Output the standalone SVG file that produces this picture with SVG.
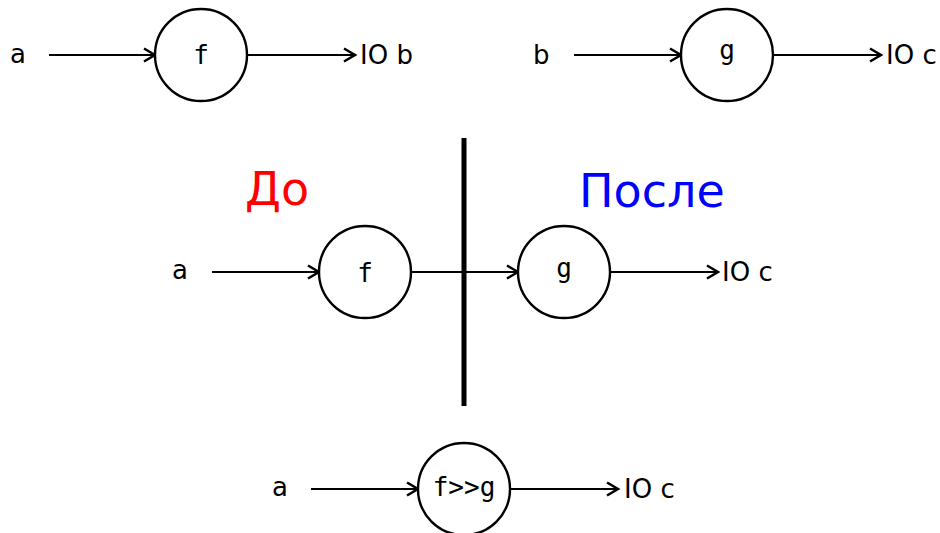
<svg xmlns="http://www.w3.org/2000/svg" width="940" height="533" viewBox="0 0 940 533">
<style>
.lbl{font-family:"DejaVu Sans",sans-serif;font-size:26px;fill:#000}
.fn{font-family:"DejaVu Sans Mono",monospace;font-size:26px;fill:#000;text-anchor:middle}
.node{fill:#fff;stroke:#000;stroke-width:2.4}
.edge{stroke:#000;stroke-width:2.2;fill:none;marker-end:url(#arr)}
.big{font-family:"DejaVu Sans",sans-serif;font-size:46px}
</style>
<defs>
<marker id="arr" markerUnits="userSpaceOnUse" markerWidth="16" markerHeight="16" refX="13" refY="8" orient="auto">
<path d="M2,1.5 L13,8 L2,14.5" fill="none" stroke="#000" stroke-width="2.5"/>
</marker>
</defs>
<rect width="940" height="533" fill="#fff"/>
<g id="connectors">
<line class="edge" x1="49" y1="55" x2="155" y2="55"/>
<line class="edge" x1="247" y1="55" x2="355" y2="55"/>
<line class="edge" x1="574" y1="55" x2="681" y2="55"/>
<line class="edge" x1="773" y1="55" x2="881" y2="55"/>
<line class="edge" x1="212" y1="272" x2="319" y2="272"/>
<line class="edge" x1="411" y1="272" x2="518" y2="272"/>
<line class="edge" x1="610" y1="272" x2="718" y2="272"/>
<line class="edge" x1="311" y1="489" x2="418" y2="489"/>
<line class="edge" x1="510" y1="489" x2="618" y2="489"/>
</g>
<g id="divider"><line x1="464" y1="138" x2="464" y2="406" stroke="#000" stroke-width="5"/></g>
<g id="titles">
<text class="big" x="245" y="205" fill="#ff0000">До</text>
<text class="big" x="579" y="207" fill="#0000ff">После</text>
</g>
<g id="node-f1"><circle class="node" cx="201" cy="55" r="46"/><text class="fn" x="201" y="64">f</text></g>
<g id="node-g1"><circle class="node" cx="727" cy="55" r="46"/><text class="fn" x="727" y="59">g</text></g>
<g id="node-f2"><circle class="node" cx="365" cy="272" r="46"/><text class="fn" x="365" y="282">f</text></g>
<g id="node-g2"><circle class="node" cx="564" cy="272" r="46"/><text class="fn" x="564" y="277">g</text></g>
<g id="node-fg"><circle class="node" cx="464" cy="489" r="46"/><text class="fn" x="464" y="496">f&gt;&gt;g</text></g>
<g id="labels">
<text class="lbl" x="10" y="63">a</text>
<text class="lbl" x="360" y="64">IO b</text>
<text class="lbl" x="533" y="64">b</text>
<text class="lbl" x="886" y="64">IO c</text>
<text class="lbl" x="172" y="279">a</text>
<text class="lbl" x="722" y="281">IO c</text>
<text class="lbl" x="272" y="496">a</text>
<text class="lbl" x="624" y="498">IO c</text>
</g>
</svg>
